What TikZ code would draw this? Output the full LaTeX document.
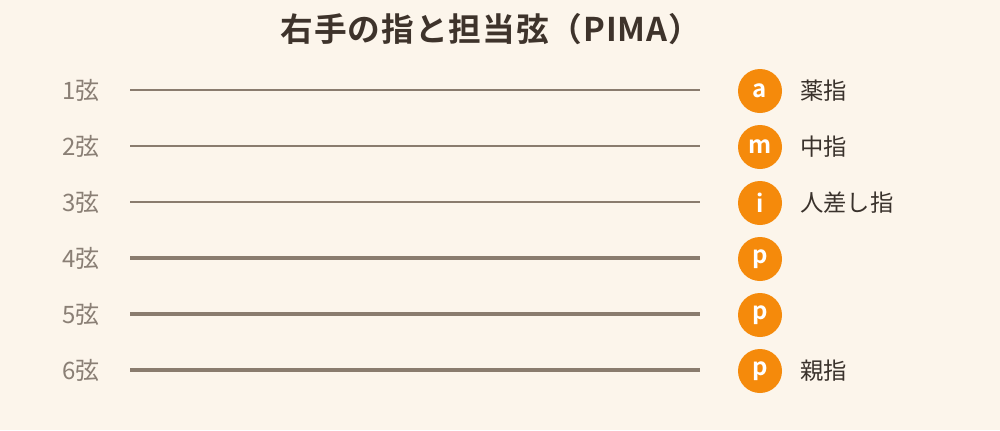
\documentclass[tikz,border=0pt]{standalone}
\usepackage{fontspec}
\setmainfont{Noto Sans CJK JP}
\newfontfamily\titlefont[LetterSpace=3]{Noto Sans CJK JP Bold}
\newfontfamily\boldfont{Noto Sans CJK JP Bold}
\definecolor{bg}{HTML}{FCF5EB}
\definecolor{titlecol}{HTML}{3E332B}
\definecolor{strcol}{HTML}{8A7C6E}
\definecolor{labcol}{HTML}{8A7F75}
\definecolor{fingcol}{HTML}{3A322C}
\definecolor{orangec}{HTML}{F58A0B}
\tikzset{
  strlabel/.style={anchor=east, text=labcol, font=\fontsize{18}{21}\selectfont, inner sep=0pt},
  fingdot/.style={circle, fill=orangec, minimum size=33pt, inner sep=0pt, text=white, font=\boldfont\fontsize{18}{21}\selectfont},
  fingname/.style={anchor=west, text=fingcol, font=\fontsize{17.5}{21}\selectfont, inner sep=0pt},
  strline/.style={draw=strcol, line cap=butt},
}
\begin{document}
\begin{tikzpicture}[x=0.75pt,y=-0.75pt]
\fill[bg] (0,0) rectangle (1000,430);
\useasboundingbox (0,0) rectangle (1000,430);
\node[text=titlecol, font=\titlefont\fontsize{24.5}{28}\selectfont, inner sep=0pt] (title) at (491,29) {右手の指と担当弦（PIMA）};
\foreach \i/\y/\w in {1/90/1.5,2/146/1.85,3/202/2.2,4/258/2.55,5/314/2.9,6/370/3.3}{
  \node[strlabel] (l\i) at (100,\y) {{\i}弦};
  \coordinate (sa\i) at (130,\y);
  \coordinate (sb\i) at (700,\y);
  \draw[strline, line width=\w pt] (sa\i) -- (sb\i);
}
\node[fingdot] (f1) at (760,91) {a};
\node[fingdot] (f2) at (760,147) {m};
\node[fingdot] (f3) at (760,203) {i};
\node[fingdot] (f4) at (760,259) {p};
\node[fingdot] (f5) at (760,315) {p};
\node[fingdot] (f6) at (760,371) {p};
\node[fingname] (n1) at (800,91) {薬指};
\node[fingname] (n2) at (800,147) {中指};
\node[fingname] (n3) at (800,203) {人差し指};
\node[fingname] (n6) at (800,371) {親指};
\end{tikzpicture}
\end{document}
